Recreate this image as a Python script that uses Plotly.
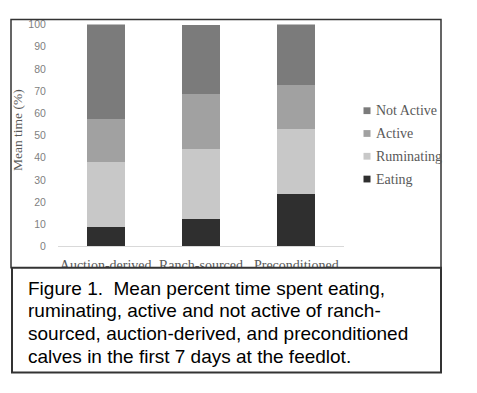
import plotly.graph_objects as go

W, H = 477, 393

categories = ["Auction-derived", "Ranch-sourced", "Preconditioned"]
series_names = ["Eating", "Ruminating", "Active", "Not Active"]
eating = [8.8, 12.4, 23.6]
ruminating = [29.2, 31.4, 29.4]
active = [19.5, 24.8, 19.6]
not_active = [42.5, 31.2, 27.4]
series_values = [eating, ruminating, active, not_active]
series_colors = ["#2f2f2f", "#c8c8c8", "#a1a1a1", "#7b7b7b"]
y_ticks = [0, 10, 20, 30, 40, 50, 60, 70, 80, 90, 100]
caption_lines = [
    "Figure 1.  Mean percent time spent eating,",
    "ruminating, active and not active of ranch-",
    "sourced, auction-derived, and preconditioned",
    "calves in the first 7 days at the feedlot.",
]


def px(x):
    return x / W


def py(y):
    return (H - y) / H


fig = go.Figure()
for name, vals, col in zip(series_names, series_values, series_colors):
    fig.add_trace(go.Bar(x=categories, y=vals, name=name, marker=dict(color=col, line=dict(width=0)),
                         showlegend=False))

serif = "Liberation Serif"
gray = "#595959"

annotations = []
# y-axis title
annotations.append(dict(text="Mean time (%)", x=px(17), y=py(128), xref="paper", yref="paper",
                        xanchor="center", yanchor="middle",
                        textangle=-90, showarrow=False, font=dict(family=serif, size=13.5, color=gray)))
# manual legend (top item is Not Active)
shapes = []
legend_rows = [178.5, 155, 131.5, 108]
for name, col, yc in zip(series_names, series_colors, legend_rows):
    shapes.append(dict(type="rect", xref="paper", yref="paper", x0=px(363.5), x1=px(370.5),
                       y0=py(yc + 3.5), y1=py(yc - 3.5), fillcolor=col, line=dict(width=0)))
    annotations.append(dict(text=name, x=px(374), y=py(yc), xref="paper", yref="paper", xanchor="left",
                            yanchor="middle", showarrow=False, font=dict(family=serif, size=14, color=gray)))

# frames
shapes.append(dict(type="rect", xref="paper", yref="paper", x0=px(11), x1=px(441), y0=py(270), y1=py(14),
                   line=dict(color="#333333", width=1.5), layer="above"))
shapes.append(dict(type="rect", xref="paper", yref="paper", x0=px(12), x1=px(441), y0=py(378), y1=py(270),
                   fillcolor="white", line=dict(color="#333333", width=2), layer="above"))

caption_centers = [291, 314.6, 338.2, 361.8]
for line, yc in zip(caption_lines, caption_centers):
    annotations.append(dict(text=line, x=px(26), y=py(yc), xref="paper", yref="paper", xanchor="left",
                            yanchor="middle", showarrow=False,
                            font=dict(family="Liberation Sans", size=19, color="black")))

fig.update_layout(
    width=W, height=H,
    margin=dict(l=0, r=0, t=0, b=0),
    paper_bgcolor="white", plot_bgcolor="white",
    barmode="stack", bargap=0.6,
    showlegend=False,
    xaxis=dict(domain=[px(58), px(344)], showgrid=False, showline=True, linecolor="#d9d9d9", linewidth=1,
               ticks="outside", ticklen=6, tickcolor="rgba(0,0,0,0)",
               tickfont=dict(family=serif, size=14, color=gray), fixedrange=True),
    yaxis=dict(domain=[py(248), py(19)], range=[0, 100], tickvals=y_ticks, showgrid=False, zeroline=False,
               showline=False, ticks="outside", ticklen=9, tickcolor="rgba(0,0,0,0)",
               tickfont=dict(family="Liberation Sans", size=10.5, color="#7f7f7f"), fixedrange=True),
    shapes=shapes,
    annotations=annotations,
)

post = (
    "document.documentElement.style.cssText='margin:0;padding:0;overflow:hidden;';"
    "document.body.style.cssText='margin:0;padding:0;overflow:hidden;';"
)

fig.write_html("out.html", config={"displayModeBar": False}, post_script=post)
